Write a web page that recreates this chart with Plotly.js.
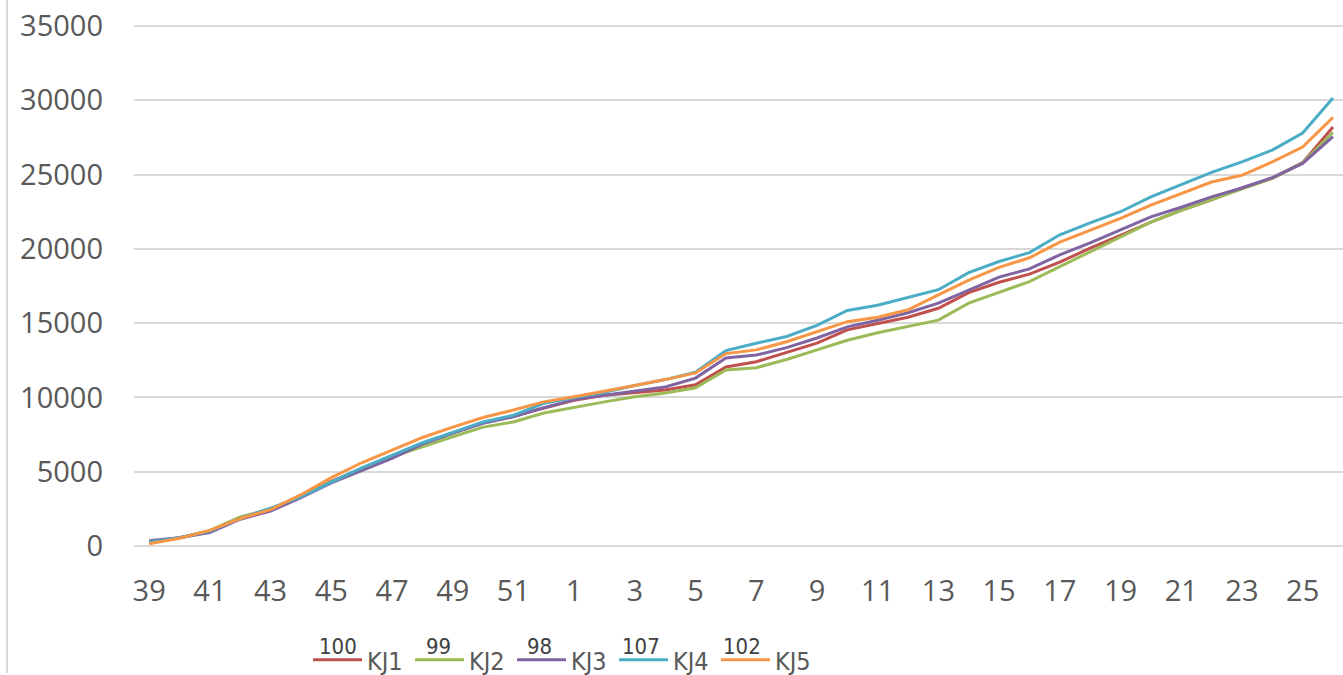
<!DOCTYPE html>
<html><head><meta charset="utf-8">
<script src="https://cdn.plot.ly/plotly-3.0.1.min.js"></script>
<style>html,body{margin:0;padding:0;background:#fff}#chart{width:1343px;height:675px}</style>
</head><body><div id="chart"></div>
<script>
const weeks = ['39','40','41','42','43','44','45','46','47','48','49','50','51','52',
  '1','2','3','4','5','6','7','8','9','10','11','12','13','14','15','16','17','18','19','20','21','22','23','24','25','26'];
const seriesNames = ['KJ1','KJ2','KJ3','KJ4','KJ5'];
const legendNumbers = ['100','99','98','107','102'];
const kj1 = [250,550,1000,1850,2450,3350,4350,5200,6100,6900,7600,8300,8750,9300,9800,10150,10350,10500,10850,12050,12400,13000,13650,14550,15000,15400,16000,17050,17750,18300,19100,20050,20900,21800,22600,23300,24100,24750,25800,28200];
const kj2 = [200,550,1050,1950,2500,3350,4300,5100,6000,6700,7350,8000,8350,8950,9350,9700,10050,10300,10650,11850,12000,12550,13200,13850,14350,14750,15200,16350,17100,17800,18800,19800,20800,21800,22600,23300,24050,24750,25800,27850];
const kj3 = [350,560,900,1800,2350,3250,4250,5050,5900,6850,7600,8250,8700,9300,9850,10150,10450,10700,11300,12650,12850,13350,14000,14750,15200,15700,16350,17250,18100,18650,19600,20400,21250,22150,22800,23500,24100,24800,25750,27550];
const kj4 = [250,550,1000,1850,2550,3300,4300,5250,6100,6950,7650,8350,8800,9600,10000,10350,10800,11200,11700,13150,13650,14100,14850,15850,16200,16700,17250,18400,19150,19750,20950,21750,22500,23500,24300,25150,25850,26650,27800,30150];
const kj5 = [150,520,1050,1850,2450,3450,4600,5600,6450,7300,8000,8650,9150,9700,10050,10400,10800,11200,11650,12950,13200,13750,14400,15100,15400,15900,16900,17900,18750,19400,20450,21250,22050,22950,23750,24500,24950,25850,26850,28850];
const colors = ['#C0504D','#9BBB59','#8064A2','#4BACC6','#F79646'];
const allSeries = [kj1,kj2,kj3,kj4,kj5];

const traces = allSeries.map((vals,i)=>({
  type:'scatter', mode:'lines', x:weeks, y:vals, name:seriesNames[i],
  line:{color:colors[i], width:3}
}));

const narrow = '"Liberation Sans Narrow","DejaVu Sans Condensed","Arial Narrow",sans-serif';
const PW = 1209, PH = 522;
const legX0 = (313-134)/PW, legStep = 101/PW, symW = 49/PW;
const annotations = legendNumbers.map((t,i)=>({
  xref:'paper', yref:'paper', x: legX0 + i*legStep + symW/2, y: -(646-547)/PH,
  text:t, showarrow:false, xanchor:'center', yanchor:'middle',
  font:{family:narrow, size:22, color:'#404040'}
}));

const layout = {
  width:1343, height:675,
  margin:{l:134, r:0, t:25, b:128, autoexpand:false},
  paper_bgcolor:'#fff', plot_bgcolor:'#fff',
  showlegend:true,
  legend:{orientation:'h', x:legX0 - 5/PW, xanchor:'left', y:-(660-547)/PH, yanchor:'middle',
    itemwidth:49, entrywidth:38, tracegroupgap:0,
    font:{family:narrow, size:25, color:'#595959'}, bgcolor:'rgba(0,0,0,0)'},
  xaxis:{type:'category', range:[-0.5,39.33], dtick:2, tick0:0, showgrid:false, zeroline:false,
    showline:false, ticks:'', ticklabelstandoff:24,
    tickfont:{family:'"Open Sans",sans-serif', size:29, color:'#595959'}},
  yaxis:{range:[-70,35070], dtick:5000, tick0:0, tickformat:'d', showgrid:true, gridcolor:'#D9D9D9', gridwidth:2,
    zeroline:false, showline:false, ticks:'', ticklabelstandoff:30,
    tickfont:{family:'"Open Sans",sans-serif', size:29, color:'#595959'}},
  shapes:[{type:'line', xref:'paper', yref:'paper', x0:(7-134)/PW, x1:(7-134)/PW,
    y0:-(673-547)/PH, y1:1+26/PH, line:{color:'#D9D9D9', width:2}}],
  annotations:annotations
};
Plotly.newPlot('chart', traces, layout, {displayModeBar:false, staticPlot:true});
</script></body></html>
